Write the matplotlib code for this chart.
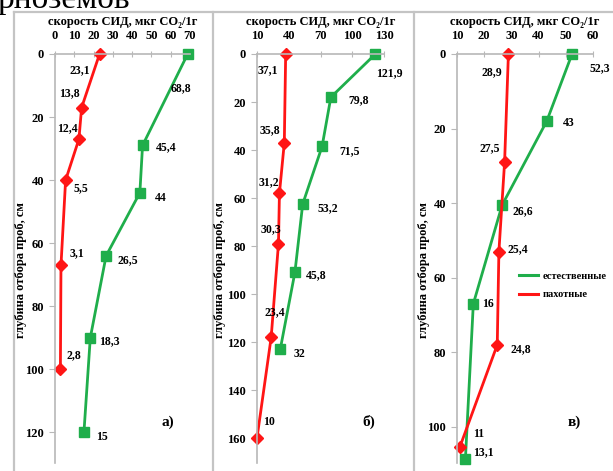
import matplotlib
matplotlib.use('Agg')
import matplotlib.pyplot as plt
from matplotlib.lines import Line2D

W, H = 613, 471

GREEN = '#1fae4b'
RED = '#ff1515'
AXIS_GRAY = '#b8b8b8'
FONT = ['Liberation Serif', 'DejaVu Serif']

# panel а)
a_nat_depth = [0, 29, 44, 64, 90, 120]
a_nat_rate = [68.8, 45.4, 44, 26.5, 18.3, 15]
a_nat_text = ['68,8', '45,4', '44', '26,5', '18,3', '15']
a_arable_depth = [0, 17, 27, 40, 67, 100]
a_arable_rate = [23.1, 13.8, 12.4, 5.5, 3.1, 2.8]
a_arable_text = ['23,1', '13,8', '12,4', '5,5', '3,1', '2,8']

# panel б)
b_nat_depth = [0, 18, 38.5, 62.5, 91, 123]
b_nat_rate = [121.9, 79.8, 71.5, 53.2, 45.8, 32]
b_nat_text = ['121,9', '79,8', '71,5', '53,2', '45,8', '32']
b_arable_depth = [0, 37, 58, 79, 118, 160]
b_arable_rate = [37.1, 35.8, 31.2, 30.3, 23.4, 10]
b_arable_text = ['37,1', '35,8', '31,2', '30,3', '23,4', '10']

# panel в)
c_nat_depth = [0, 18, 40.5, 67, 108.5]
c_nat_rate = [52.3, 43, 26.6, 16, 13.1]
c_nat_text = ['52,3', '43', '26,6', '16', '13,1']
c_arable_depth = [0, 29, 53, 78, 105.5]
c_arable_rate = [28.9, 27.5, 25.4, 24.8, 11]
c_arable_text = ['28,9', '27,5', '25,4', '24,8', '11']

panels = [
    dict(left=55, right=190, xlim=(0, 70), xticks=[0, 10, 20, 30, 40, 50, 60, 70],
         ylim=(129.7, 0), yticks=[0, 20, 40, 60, 80, 100, 120],
         nat=(a_nat_rate, a_nat_depth, a_nat_text),
         arable=(a_arable_rate, a_arable_depth, a_arable_text),
         nat_off=[(-7, -34), (24, -2), (21, -5), (22, -4), (19, -3), (18, -5)],
         arable_off=[(-20, -16), (-12, 14), (-12, 11), (15, -8), (16, 12), (13, 14)],
         tag='а)', tag_x=168, ylab_x=21),
    dict(left=257, right=384, xlim=(10, 130), xticks=[10, 40, 70, 100, 130],
         ylim=(170.4, 0), yticks=[0, 20, 40, 60, 80, 100, 120, 140, 160],
         nat=(b_nat_rate, b_nat_depth, b_nat_text),
         arable=(b_arable_rate, b_arable_depth, b_arable_text),
         nat_off=[(14, -19), (28, -3), (28, -5), (25, -4), (21, -3), (19, -5)],
         arable_off=[(-18, -16), (-14, 13), (-11, 11), (-8, 14), (4, 25), (12, 16)],
         tag='б)', tag_x=369, ylab_x=220),
    dict(left=457, right=593, xlim=(10, 60), xticks=[10, 20, 30, 40, 50, 60],
         ylim=(109.7, 0), yticks=[0, 20, 40, 60, 80, 100],
         nat=(c_nat_rate, c_nat_depth, c_nat_text),
         arable=(c_arable_rate, c_arable_depth, c_arable_text),
         nat_off=[(28, -14), (22, -2), (21, -6), (15, 0), (18, 6)],
         arable_off=[(-17, -18), (-15, 14), (19, 2), (24, -4), (19, 13)],
         tag='в)', tag_x=574, ylab_x=424),
]

fig = plt.figure(figsize=(W / 100, H / 100), dpi=100)
fig.patch.set_facecolor('white')

top_px, bottom_px = 54, 463


def fx(px):
    return px / W


def fy(py):
    return 1 - py / H


# cropped caption fragment at the very top
fig.text(fx(-3), fy(8), 'рноземов', fontsize=24, family=FONT, va='baseline', ha='left')

# gray panel frames
for x in [14, 213, 414]:
    fig.add_artist(Line2D([fx(x), fx(x)], [fy(12), 0], color='#c4c4c4', lw=1.6))
fig.add_artist(Line2D([fx(14), 1], [fy(12), fy(12)], color='#c4c4c4', lw=1.6))

for p in panels:
    ax = fig.add_axes([fx(p['left']), fy(bottom_px), fx(p['right'] - p['left']),
                       (bottom_px - top_px) / H])
    ax.set_xlim(*p['xlim'])
    ax.set_ylim(*p['ylim'])
    ax.set_facecolor('none')
    for s in ['right', 'bottom']:
        ax.spines[s].set_visible(False)
    for s in ['left', 'top']:
        ax.spines[s].set_color(AXIS_GRAY)
        ax.spines[s].set_linewidth(1.2)
    ax.xaxis.tick_top()
    ax.set_xticks(p['xticks'])
    ax.set_yticks(p['yticks'])
    ax.tick_params(axis='x', direction='inout', length=5, color=AXIS_GRAY, pad=6)
    ax.tick_params(axis='y', direction='out', length=4, color=AXIS_GRAY, pad=4)
    for lab in ax.get_xticklabels() + ax.get_yticklabels():
        lab.set_fontfamily(FONT)
        lab.set_fontweight('bold')
        lab.set_fontsize(9)

    ax.set_xlabel('скорость СИД, мкг CO₂/1г', fontsize=9, fontweight='bold',
                  family=FONT, labelpad=4)
    ax.xaxis.set_label_position('top')

    xs, ys, txt = p['nat']
    ax.plot(xs, ys, color=GREEN, lw=2, marker='s', ms=7.5, clip_on=False)
    for x, y, t, off in zip(xs, ys, txt, p['nat_off']):
        ax.annotate(t, (x, y), xytext=off, textcoords='offset pixels', ha='center',
                    va='center', fontsize=8.5, fontweight='bold', family=FONT)

    xs, ys, txt = p['arable']
    ax.plot(xs, ys, color=RED, lw=2, marker='D', ms=6, clip_on=False)
    for x, y, t, off in zip(xs, ys, txt, p['arable_off']):
        ax.annotate(t, (x, y), xytext=off, textcoords='offset pixels', ha='center',
                    va='center', fontsize=8.5, fontweight='bold', family=FONT)

    fig.text(fx(p['tag_x']), fy(422), p['tag'], fontsize=11, fontweight='bold',
             family=FONT, ha='center', va='center')
    fig.text(fx(p['ylab_x']), fy(270), 'глубина отбора проб, см', rotation=90,
             fontsize=9, fontweight='bold', family=FONT, ha='center', va='center')

handles = [Line2D([], [], color=GREEN, lw=2.2), Line2D([], [], color=RED, lw=2.2)]
leg = fig.legend(handles, ['естественные', 'пахотные'], loc='upper left',
                 bbox_to_anchor=(fx(510), fy(262)), frameon=False,
                 prop={'family': FONT, 'weight': 'bold', 'size': 7.5},
                 handlelength=1.8, handletextpad=0.4, labelspacing=0.9)

fig.savefig('out.png', dpi=100, facecolor='white')
